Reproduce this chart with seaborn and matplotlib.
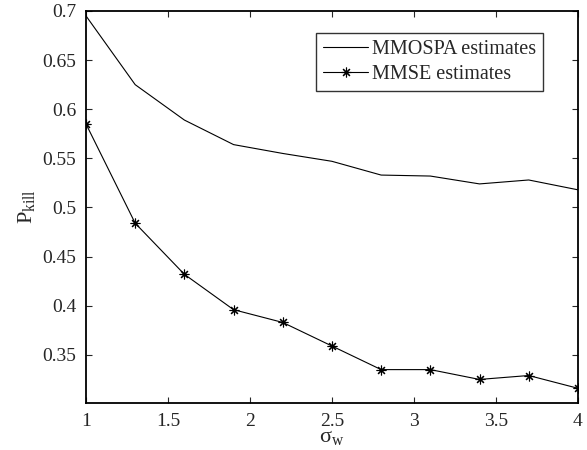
import numpy as np
import pandas as pd
import seaborn as sns
import matplotlib
matplotlib.use('Agg')
import matplotlib.pyplot as plt

# values
sigma_w = [1.0, 1.3, 1.6, 1.9, 2.2, 2.5, 2.8, 3.1, 3.4, 3.7, 4.0]
mmospa = [0.695, 0.625, 0.589, 0.564, 0.555, 0.547, 0.533, 0.532, 0.524, 0.528, 0.518]
mmse = [0.585, 0.484, 0.432, 0.396, 0.383, 0.359, 0.335, 0.335, 0.325, 0.329, 0.316]
series_names = ['MMOSPA estimates', 'MMSE estimates']
y_ticks = [0.35, 0.4, 0.45, 0.5, 0.55, 0.6, 0.65, 0.7]
x_ticks = [1, 1.5, 2, 2.5, 3, 3.5, 4]

sns.set_style('ticks')
plt.rcParams['font.family'] = ['Liberation Serif', 'DejaVu Serif']
plt.rcParams['mathtext.fontset'] = 'custom'
plt.rcParams['mathtext.rm'] = 'Liberation Serif'
plt.rcParams['mathtext.it'] = 'Liberation Serif:italic'
plt.rcParams['axes.linewidth'] = 1.3
plt.rcParams['xtick.direction'] = 'in'
plt.rcParams['ytick.direction'] = 'in'

df = pd.DataFrame({
    'sigma': sigma_w * 2,
    'p': mmospa + mmse,
    'name': [series_names[0]] * len(sigma_w) + [series_names[1]] * len(sigma_w),
})

fig = plt.figure(figsize=(5.87, 4.5), dpi=100)
ax = fig.add_axes([0.1465, 0.1044, 0.838, 0.8712])

sns.lineplot(data=df[df['name'] == series_names[0]], x='sigma', y='p', color='black',
             linewidth=0.8, ax=ax, label=series_names[0])
sns.lineplot(data=df[df['name'] == series_names[1]], x='sigma', y='p', color='black',
             linewidth=0.8, marker=(8, 2, 0), markersize=7, markeredgewidth=0.8,
             markeredgecolor='black', ax=ax, label=series_names[1])

ax.set_xlim(1, 4)
ax.set_ylim(0.301, 0.7)
ax.set_xticks(x_ticks)
ax.set_xticklabels(['1', '1.5', '2', '2.5', '3', '3.5', '4'])
ax.set_yticks(y_ticks)
ax.set_yticklabels(['0.35', '0.4', '0.45', '0.5', '0.55', '0.6', '0.65', '0.7'])
ax.tick_params(axis='both', labelsize=14, length=4, width=0.8, top=True, right=True, pad=7)
for s in ax.spines.values():
    s.set_visible(True)
    s.set_color('black')

ax.set_xlabel(r'$\mathrm{σ}_{\mathrm{w}}$', fontsize=16, labelpad=-1)
ax.set_ylabel(r'$\mathrm{P}_{\mathrm{kill}}$', fontsize=16, labelpad=4)

leg = ax.legend(loc='upper right', bbox_to_anchor=(0.929, 0.944), borderaxespad=0,
                fontsize=14.5, frameon=True, fancybox=False, edgecolor='black',
                handlelength=2.2, handletextpad=0.2, borderpad=0.35, labelspacing=0.3)
leg.get_frame().set_linewidth(1.0)

fig.savefig('out.png', dpi=100)
